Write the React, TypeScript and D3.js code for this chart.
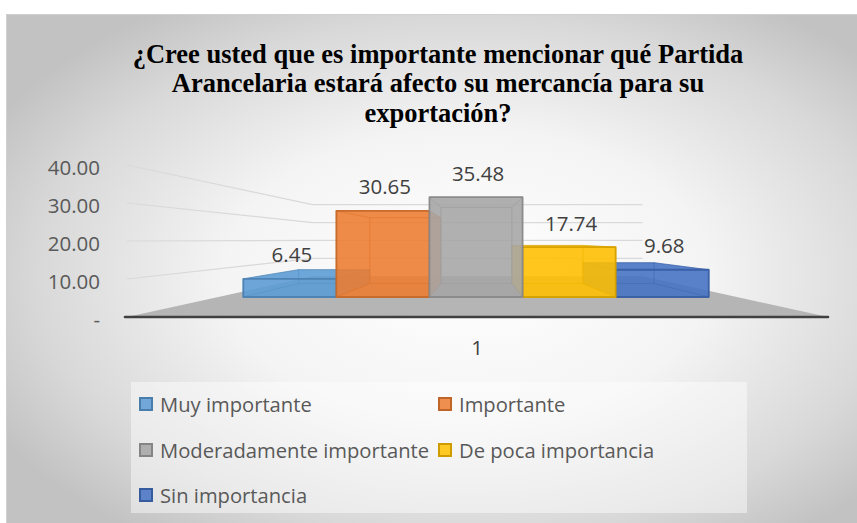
import React from 'react';
import * as d3 from 'd3';

// Survey answers (percent of respondents) for the single category "1"
const series = ['Muy importante', 'Importante', 'Moderadamente importante', 'De poca importancia', 'Sin importancia'];
const values = [6.45, 30.65, 35.48, 17.74, 9.68];
const colors = ['#5B9BD5', '#ED7D31', '#A5A5A5', '#FFC000', '#4472C4'];
const yTicks = [0, 10, 20, 30, 40];
const categoryLabel = '1';
const titleLines = [
  '¿Cree usted que es importante mencionar qué Partida',
  'Arancelaria estará afecto su mercancía para su',
  'exportación?',
];

const W = 857;
const H = 523;

// one-point perspective: vanishing point and depth scale factors
const VP = { x: 477.5, y: 240 };
const S_WALL = 0.471;
const S_BAR_FRONT = 0.74;
const S_BAR_BACK = 0.565;
const FRONT_X0 = 127;
const FRONT_X1 = 828;

const y = d3.scaleLinear().domain([0, 40]).range([317, 165]);
const x = d3.scaleBand<string>().domain(series).range([161, 790]).padding(0);

function project(X: number, Y: number, s: number): [number, number] {
  return [VP.x + (X - VP.x) * s, VP.y + (Y - VP.y) * s];
}

const line = d3.line();
function poly(pts: [number, number][]) {
  return line(pts) + 'Z';
}

const FONT = "'Open Sans', 'Liberation Sans', sans-serif";
const TITLE_FONT = "Liberation Serif, DejaVu Serif, serif";

function Bar({ name, value, color }: { name: string; value: number; color: string }) {
  const X0 = x(name)!;
  const X1 = X0 + x.bandwidth();
  const Y0 = y(0);
  const Y1 = y(value);
  const f = S_BAR_FRONT;
  const b = S_BAR_BACK;
  const faces: [number, number][][] = [
    // back
    [project(X0, Y1, b), project(X1, Y1, b), project(X1, Y0, b), project(X0, Y0, b)],
    // bottom
    [project(X0, Y0, f), project(X1, Y0, f), project(X1, Y0, b), project(X0, Y0, b)],
    // left
    [project(X0, Y1, f), project(X0, Y0, f), project(X0, Y0, b), project(X0, Y1, b)],
    // right
    [project(X1, Y1, f), project(X1, Y0, f), project(X1, Y0, b), project(X1, Y1, b)],
    // top
    [project(X0, Y1, f), project(X1, Y1, f), project(X1, Y1, b), project(X0, Y1, b)],
    // front
    [project(X0, Y1, f), project(X1, Y1, f), project(X1, Y0, f), project(X0, Y0, f)],
  ];
  const edge = d3.color(color)!.darker(0.5).formatHex();
  return (
    <g>
      {faces.map((pts, i) => (
        <path
          key={i}
          d={poly(pts)}
          fill={color}
          fillOpacity={0.66}
          stroke={edge}
          strokeOpacity={i === 5 ? 0.95 : 0.45}
          strokeWidth={i === 5 ? 1.8 : 1}
          strokeLinejoin="round"
        />
      ))}
    </g>
  );
}

export default function App() {
  const order = series
    .map((s, i) => i)
    .sort((a, b) => {
      const ca = Math.abs(x(series[a])! + x.bandwidth() / 2 - VP.x);
      const cb = Math.abs(x(series[b])! + x.bandwidth() / 2 - VP.x);
      return cb - ca;
    });

  const floor = [
    project(FRONT_X0, y(0), 1),
    project(FRONT_X1, y(0), 1),
    project(FRONT_X1, y(0), S_WALL),
    project(FRONT_X0, y(0), S_WALL),
  ];

  const legendCols = [139, 438];
  const legendRows = [404, 450, 495];

  return (
    <svg
      width={W}
      height={H}
      style={{ position: 'absolute', left: 0, top: 0, display: 'block' }}
      xmlns="http://www.w3.org/2000/svg"
    >
      <defs>
        <radialGradient id="bg" gradientUnits="objectBoundingBox" cx={0.53} cy={0.5} r={0.62}>
          <stop offset="0" stopColor="#FFFFFF" />
          <stop offset="0.45" stopColor="#F4F4F4" />
          <stop offset="0.8" stopColor="#D8D8D8" />
          <stop offset="1" stopColor="#C2C2C2" />
        </radialGradient>
      </defs>
      <rect x={0} y={0} width={W} height={H} fill="#FFFFFF" />
      <rect x={6.5} y={14.5} width={W + 10} height={H} fill="url(#bg)" stroke="#D0D0D0" strokeWidth={1} />

      {/* title */}
      <text
        textAnchor="middle"
        style={{ fontFamily: TITLE_FONT, fontWeight: 700, fontSize: '26.5px' }}
        fill="#000000"
      >
        {titleLines.map((t, i) => (
          <tspan key={i} x={438} y={62.5 + i * 29.7}>
            {t}
          </tspan>
        ))}
      </text>

      {/* side and back wall gridlines */}
      {yTicks
        .filter((v) => v > 0)
        .map((v) => {
          const pts = [
            project(FRONT_X0, y(v), 1),
            project(FRONT_X0, y(v), S_WALL),
            project(FRONT_X1, y(v), S_WALL),
          ];
          return <path key={v} d={line(pts)!} fill="none" stroke="#D9D9D9" strokeWidth={1.2} />;
        })}

      {/* floor */}
      <path d={poly(floor)} fill="#B5B5B5" />
      <line
        x1={FRONT_X0 - 2}
        x2={FRONT_X1}
        y1={y(0)}
        y2={y(0)}
        stroke="#404040"
        strokeWidth={2.6}
        strokeLinecap="round"
      />

      {/* y axis labels */}
      {yTicks.map((v) => (
        <text
          key={v}
          x={100}
          y={y(v) + 10}
          textAnchor="end"
          fontFamily={FONT}
          fontSize={20.5}
          fill="#595959"
        >
          {v === 0 ? '-' : d3.format('.2f')(v)}
        </text>
      ))}

      {/* bars */}
      {order.map((i) => (
        <Bar key={series[i]} name={series[i]} value={values[i]} color={colors[i]} />
      ))}

      {/* data labels */}
      {series.map((s, i) => {
        const cx = x(s)! + x.bandwidth() / 2;
        const [px, py] = project(cx, y(values[i]), S_BAR_FRONT);
        return (
          <text
            key={s}
            x={px + 2}
            y={py - 24 + 7.5}
            textAnchor="middle"
            fontFamily={FONT}
            fontSize={20.5}
            fill="#404040"
          >
            {d3.format('.2f')(values[i])}
          </text>
        );
      })}

      {/* category label */}
      <text x={477} y={355} textAnchor="middle" fontFamily={FONT} fontSize={20.5} fill="#404040">
        {categoryLabel}
      </text>

      {/* legend */}
      <rect x={131} y={382} width={616} height={131} fill="#FFFFFF" fillOpacity={0.45} />
      {series.map((s, i) => {
        const cx = legendCols[i % 2];
        const cy = legendRows[Math.floor(i / 2)];
        const edge = d3.color(colors[i])!.darker(0.6).formatHex();
        return (
          <g key={s}>
            <rect
              x={cx + 1}
              y={cy - 6}
              width={12}
              height={12}
              fill={colors[i]}
              fillOpacity={0.85}
              stroke={edge}
              strokeWidth={2}
            />
            <text x={cx + 21} y={cy + 7.5} fontFamily={FONT} fontSize={20.2} fill="#595959">
              {s}
            </text>
          </g>
        );
      })}
    </svg>
  );
}
